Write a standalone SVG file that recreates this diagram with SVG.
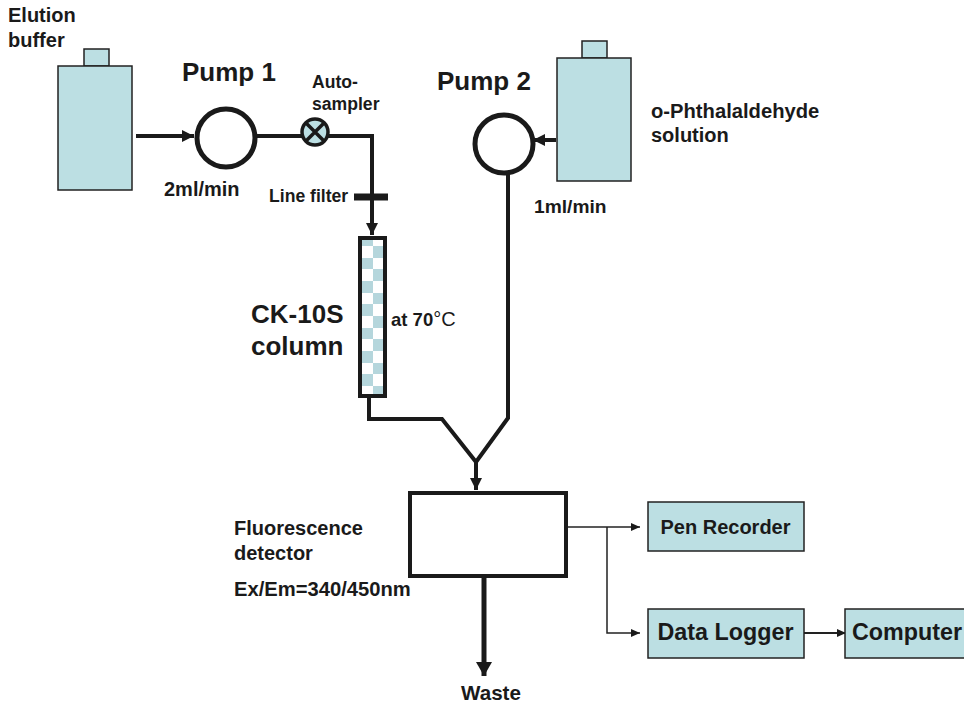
<svg xmlns="http://www.w3.org/2000/svg" width="964" height="706" viewBox="0 0 964 706">
<style>
text{font-family:"Liberation Sans",Arial,sans-serif;font-weight:bold;fill:#1a1a1a}
.t{font-size:20px}.b{font-size:26px}.m{font-size:17.6px}.n{font-size:20px}.c{font-size:23.3px}
.box{fill:#bcdfe3;stroke:#222;stroke-width:1.5}
.p{fill:#fff;stroke:#1a1a1a;stroke-width:5}
.w{fill:none;stroke:#1a1a1a;stroke-width:4}
.th{fill:none;stroke:#222;stroke-width:1.5}
.ck{fill:#b5d6dc}
</style>
<defs>
<marker id="a" markerUnits="userSpaceOnUse" markerWidth="14" markerHeight="14" refX="12" refY="7" orient="auto"><path d="M0 1L12 7L0 13Z" fill="#1a1a1a"/></marker>
<marker id="l" markerUnits="userSpaceOnUse" markerWidth="16" markerHeight="18" refX="14" refY="9" orient="auto"><path d="M0 1L14 9L0 17Z" fill="#1a1a1a"/></marker>
<marker id="s" markerUnits="userSpaceOnUse" markerWidth="10" markerHeight="10" refX="9" refY="5" orient="auto"><path d="M0 1L9 5L0 9Z" fill="#1a1a1a"/></marker>
</defs>
<g id="connectors">
<path class="w" d="M136 136H194" marker-end="url(#a)"/>
<path class="w" d="M257 136H372V235" marker-end="url(#a)"/>
<path class="w" style="stroke-width:7" d="M354 197H388"/>
<path class="w" d="M556 140H533" marker-end="url(#a)"/>
<path class="w" d="M508 174V418L476 462"/>
<path class="w" d="M369 396V419H442L476 462V490" marker-end="url(#a)"/>
<path class="w" style="stroke-width:5" d="M484 576V676" marker-end="url(#l)"/>
<path class="th" d="M566 527H640" marker-end="url(#s)"/>
<path class="th" d="M607 527V633H640" marker-end="url(#s)"/>
<path class="th" style="stroke-width:2" d="M804 633H846" marker-end="url(#s)"/>
</g>
<g id="elution-buffer">
<rect class="box" x="84" y="49" width="25" height="17"/>
<rect class="box" x="58" y="66" width="74" height="124"/>
<text class="t" x="8" y="22">Elution</text><text class="t" x="8" y="47">buffer</text>
</g>
<g id="pump1">
<circle class="p" cx="226" cy="138" r="29"/>
<text class="b" x="182" y="81">Pump 1</text>
<text class="t" x="164" y="196">2ml/min</text>
</g>
<g id="autosampler">
<circle cx="315" cy="132" r="13" fill="#bcdfe3" stroke="#1a1a1a" stroke-width="3.5"/>
<path d="M306 123L324 141M324 123L306 141" stroke="#1a1a1a" stroke-width="3.5"/>
<text class="m" x="312" y="88">Auto-</text><text class="m" x="312" y="110">sampler</text>
</g>
<g id="line-filter"><text class="m" x="269" y="202">Line filter</text></g>
<g id="opa">
<rect class="box" x="582" y="41" width="25" height="17"/>
<rect class="box" x="557" y="58" width="74" height="123"/>
<text class="t" x="651" y="118" style="font-size:20.2px">o-Phthalaldehyde</text><text class="t" x="651" y="142">solution</text>
</g>
<g id="pump2">
<circle class="p" cx="504" cy="144" r="29"/>
<text class="b" x="437" y="90">Pump 2</text>
<text x="534" y="213" style="font-size:19.2px">1ml/min</text>
</g>
<g id="column">
<rect x="360" y="238" width="25" height="158" fill="#fff"/>
<path class="ck" d="M362 240h11v6h-11zM373 246h10v12h-10zM362 258h11v11h-11zM373 269h10v12h-10zM362 281h11v12h-11zM373 293h10v11h-10zM362 304h11v12h-11zM373 316h10v12h-10zM362 328h11v11h-11zM373 339h10v12h-10zM362 351h11v12h-11zM373 363h10v11h-10zM362 374h11v12h-11zM373 386h10v9h-10z"/>
<rect x="360" y="238" width="25" height="158" fill="none" stroke="#1a1a1a" stroke-width="4"/>
<text class="b" x="251" y="323">CK-10S</text><text class="b" x="251" y="355">column</text>
<text x="391" y="326" style="font-size:18.5px">at 70<tspan style="font-weight:normal;font-size:20px">°C</tspan></text>
</g>
<g id="detector">
<rect x="410" y="493" width="156" height="83" fill="#fff" stroke="#1a1a1a" stroke-width="4"/>
<text class="t" x="234" y="535">Fluorescence</text><text class="t" x="234" y="560">detector</text>
<text x="234" y="596" style="font-size:20.2px">Ex/Em=340/450nm</text>
</g>
<g id="waste"><text x="461" y="700" style="font-size:20.6px">Waste</text></g>
<g id="pen-recorder"><rect class="box" x="648" y="502" width="156" height="49"/><text class="n" x="725.5" y="534" text-anchor="middle">Pen Recorder</text></g>
<g id="data-logger"><rect class="box" x="648" y="609" width="156" height="49"/><text class="c" x="725.5" y="640" text-anchor="middle">Data Logger</text></g>
<g id="computer"><rect class="box" x="845" y="609" width="125" height="49"/><text class="c" x="852" y="640">Computer</text></g>
</svg>
